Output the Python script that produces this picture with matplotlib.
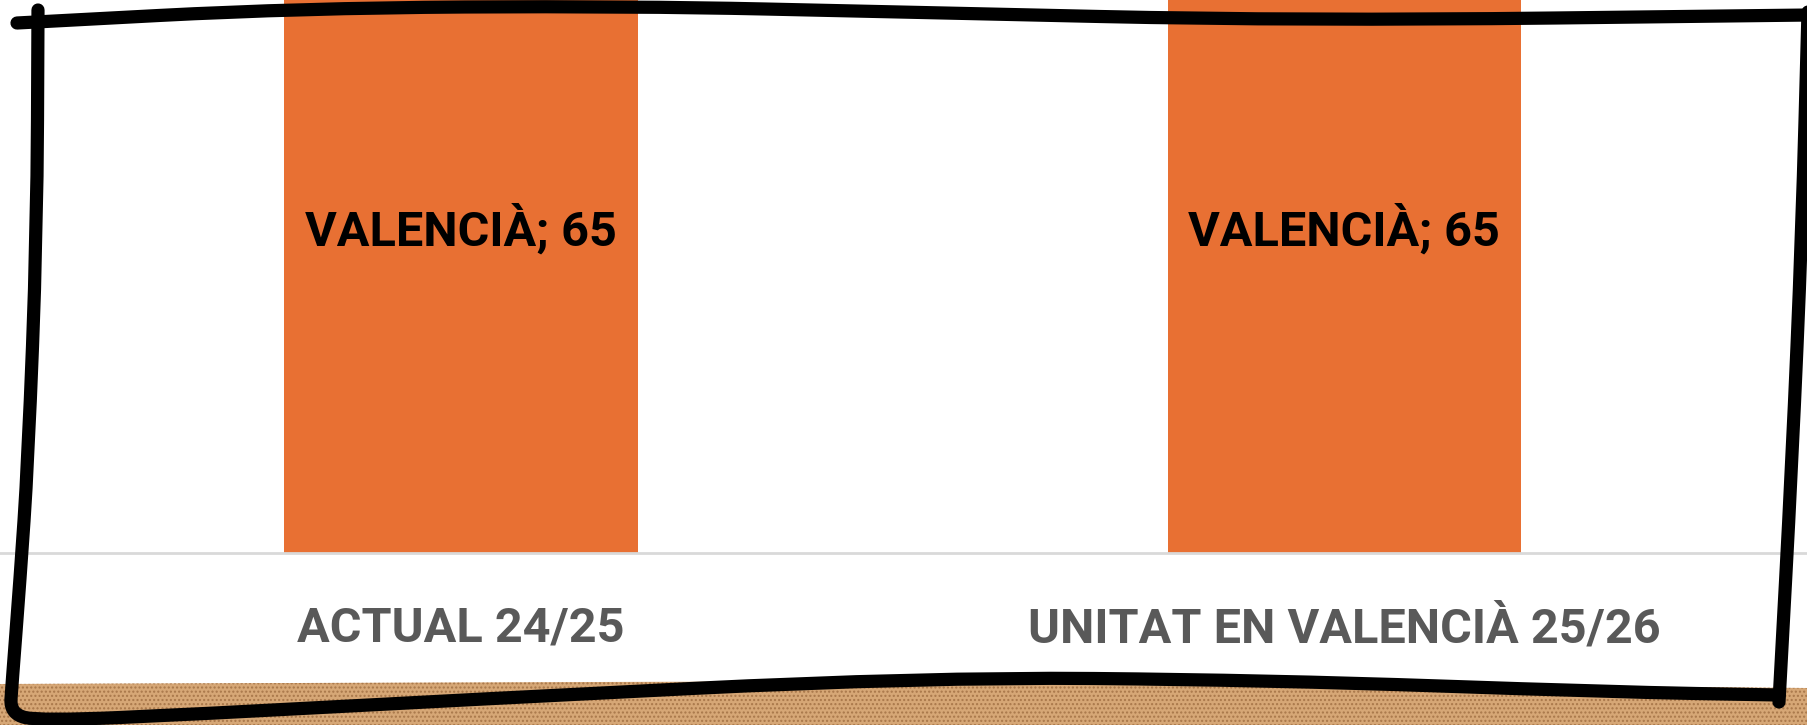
#!/usr/bin/env python3
# -*- coding: utf-8 -*-

import matplotlib
matplotlib.use("Agg")
import matplotlib.pyplot as plt
from matplotlib.path import Path
from matplotlib.patches import Polygon, PathPatch

categories = ["ACTUAL 24/25", "UNITAT EN VALENCIÀ 25/26"]
series_name = "VALENCIÀ"
valencia = [65, 65]

W, H = 1807, 725
FONT = ['Roboto', 'DejaVu Sans']


def px(x, y):
    # pixel coords (top-left origin) -> figure fraction
    return x / W, 1 - y / H


def smooth_path(pts):
    # quadratic curve through the midpoints, like a marker stroke
    p = [px(a, b) for a, b in pts]
    verts = [p[0]]
    codes = [Path.MOVETO]
    for i in range(1, len(p) - 1):
        mid = ((p[i][0] + p[i + 1][0]) / 2, (p[i][1] + p[i + 1][1]) / 2)
        if i == 1:
            verts.append(((p[0][0] + p[1][0]) / 2, (p[0][1] + p[1][1]) / 2))
            codes.append(Path.LINETO)
        verts += [p[i], mid]
        codes += [Path.CURVE3, Path.CURVE3]
    verts.append(p[-1])
    codes.append(Path.LINETO)
    return Path(verts, codes)


fig = plt.figure(figsize=(W / 100, H / 100), dpi=100)
fig.patch.set_facecolor('white')

# cork board strip along the bottom
cork = Polygon([px(0, 684), px(900, 681), px(1807, 688), px(1807, 725), px(0, 725)],
               closed=True, transform=fig.transFigure, facecolor='#d6a776',
               edgecolor='#a8774a', linewidth=0, hatch='....', zorder=0)
fig.patches.append(cork)

ax = fig.add_axes([0, 172 / H, 1, 553 / H])
ax.set_facecolor('none')
x = list(range(len(categories)))
ax.bar(x, valencia, width=0.4, color='#e87033', zorder=2)
for i, v in zip(x, valencia):
    ax.text(i, v / 2, f"{series_name}; {v}", ha='center', va='center',
            fontsize=35, fontweight='bold', color='black', family=FONT, zorder=3)

ax.set_xlim(-0.522, 1.524)
ax.set_ylim(0, 55.6)
ax.set_xticks(x)
ax.set_xticklabels(categories, fontsize=35, fontweight='bold', color='#595959', family=FONT)
ax.tick_params(axis='x', length=0, pad=38)
ax.set_yticks([])
for s in ['top', 'left', 'right']:
    ax.spines[s].set_visible(False)
ax.spines['bottom'].set_color('#d9d9d9')
ax.spines['bottom'].set_linewidth(2)

# hand drawn frame
frame = [
    [(17, 23), (300, 8), (630, 6), (900, 12), (1300, 21), (1810, 15)],
    [(38, 10), (37, 231), (28, 462), (20, 580), (12, 684), (10, 714), (40, 721),
     (200, 714), (461, 700), (922, 677), (1267, 680), (1613, 692), (1779, 695)],
    [(1808, 12), (1802, 231), (1792, 462), (1779, 702)],
]
for pts in frame:
    fig.patches.append(PathPatch(smooth_path(pts), transform=fig.transFigure,
                                 facecolor='none', edgecolor='black', linewidth=9.5,
                                 capstyle='round', joinstyle='round', zorder=10))

fig.savefig('out.png', dpi=100)
